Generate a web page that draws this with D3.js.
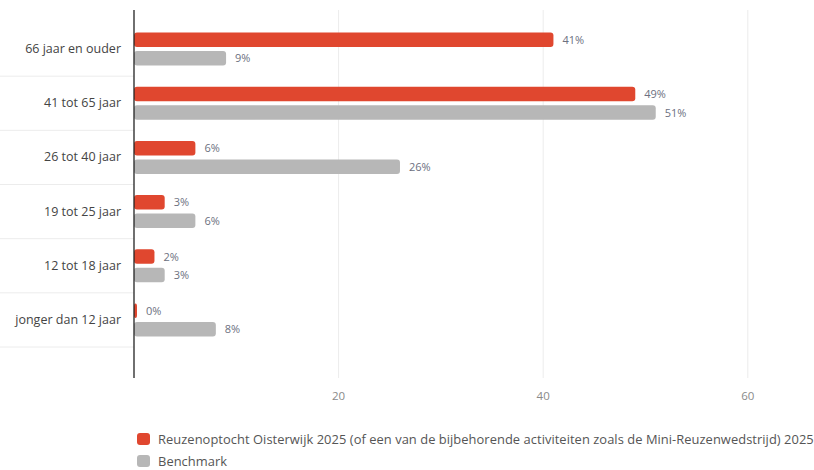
<!DOCTYPE html>
<html>
<head>
<meta charset="utf-8">
<script src="https://cdn.jsdelivr.net/npm/d3@7"></script>
<style>
body { margin: 0; background: #fff; font-family: "Open Sans", "Liberation Sans", sans-serif; }
</style>
</head>
<body>
<script>
var width = 814;
var height = 470;

var categories = ["66 jaar en ouder", "41 tot 65 jaar", "26 tot 40 jaar", "19 tot 25 jaar", "12 tot 18 jaar", "jonger dan 12 jaar"];
var reuzen = [41, 49, 6, 3, 2, 0];
var benchmark = [9, 51, 26, 6, 3, 8];
var ticks = [20, 40, 60];
var seriesNames = ["Reuzenoptocht Oisterwijk 2025 (of een van de bijbehorende activiteiten zoals de Mini-Reuzenwedstrijd) 2025", "Benchmark"];
var colors = ["#e0472f", "#b7b7b7"];

var svg = d3.select("body").append("svg")
	.attr("width", width)
	.attr("height", height);

var x = d3.scaleLinear()
	.domain([0, 66])
	.range([134, 134 + 66 * 10.23]);

var y = d3.scaleBand()
	.domain(categories)
	.range([22, 347])
	.padding(0);

// gridlines
svg.append("g").selectAll("line")
	.data(ticks)
	.enter().append("line")
	.attr("x1", function(d) { return x(d); })
	.attr("x2", function(d) { return x(d); })
	.attr("y1", 10)
	.attr("y2", 378)
	.style("stroke", "#ececec")
	.style("stroke-width", 1);

// tick labels
svg.append("g").selectAll("text")
	.data(ticks)
	.enter().append("text")
	.attr("x", function(d) { return x(d); })
	.attr("y", 400)
	.attr("text-anchor", "middle")
	.style("font-size", "11.5px")
	.style("fill", "#8a8a8a")
	.text(function(d) { return d; });

// row separators left of axis
svg.append("g").selectAll("line")
	.data(categories)
	.enter().append("line")
	.attr("x1", 0)
	.attr("x2", 134)
	.attr("y1", function(d) { return y(d) + y.bandwidth(); })
	.attr("y2", function(d) { return y(d) + y.bandwidth(); })
	.style("stroke", "#ececec");

// category labels
svg.append("g").selectAll("text")
	.data(categories)
	.enter().append("text")
	.attr("x", 121)
	.attr("y", function(d) { return y(d) + y.bandwidth() / 2 + 4; })
	.attr("text-anchor", "end")
	.style("font-size", "12.5px")
	.style("fill", "#444")
	.text(function(d) { return d; });

var barH = 14.5;
var series = [reuzen, benchmark];

series.forEach(function(vals, si) {
	var g = svg.append("g");
	var offset = si === 0 ? -barH - 2 : 2;
	g.selectAll("rect")
		.data(vals)
		.enter().append("rect")
		.attr("x", x(0))
		.attr("y", function(d, i) { return y(categories[i]) + y.bandwidth() / 2 + offset; })
		.attr("width", function(d) { return Math.max(x(d) - x(0), 3); })
		.attr("height", barH)
		.attr("rx", 3)
		.style("fill", colors[si]);
	g.selectAll("text")
		.data(vals)
		.enter().append("text")
		.attr("x", function(d) { return Math.max(x(d), x(0) + 3) + 9; })
		.attr("y", function(d, i) { return y(categories[i]) + y.bandwidth() / 2 + offset + barH / 2 + 4; })
		.style("font-size", "11px")
		.style("fill", "#6c7080")
		.text(function(d) { return d + "%"; });
});

// axis line
svg.append("line")
	.attr("x1", x(0))
	.attr("x2", x(0))
	.attr("y1", 10)
	.attr("y2", 378)
	.style("stroke", "#222")
	.style("stroke-width", 1.3);

// legend
var legend = svg.append("g").selectAll("g")
	.data(seriesNames)
	.enter().append("g")
	.attr("transform", function(d, i) { return "translate(137," + (433 + i * 22) + ")"; });

legend.append("rect")
	.attr("width", 13)
	.attr("height", 12)
	.attr("rx", 3)
	.style("fill", function(d, i) { return colors[i]; });

legend.append("text")
	.attr("x", 21)
	.attr("y", 10.5)
	.style("font-size", "12.9px")
	.style("letter-spacing", "0.05px")
	.style("fill", "#555")
	.text(function(d) { return d; });
</script>
</body>
</html>
